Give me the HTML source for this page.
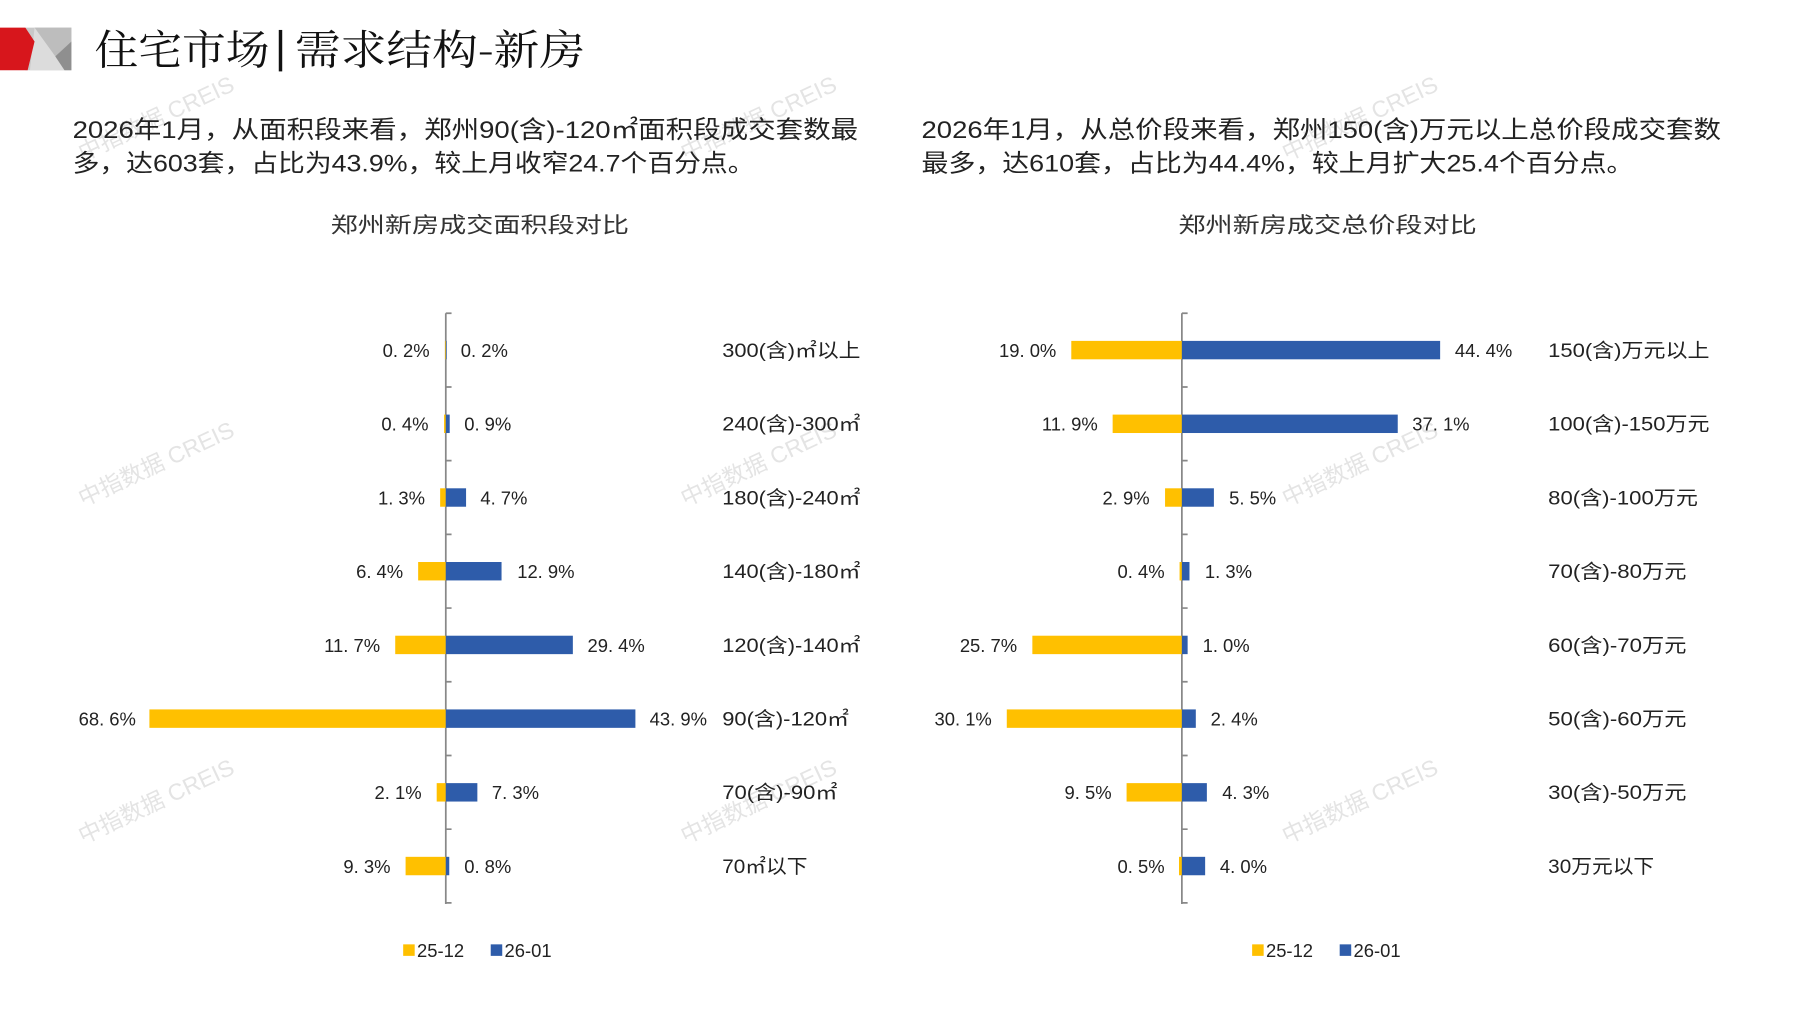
<!DOCTYPE html>
<html><head><meta charset="utf-8"><style>
html,body{margin:0;padding:0;background:#fff;}
svg{display:block;}
text{font-family:"Liberation Sans","Noto Sans CJK SC",sans-serif;fill:#222;}
.v{font-size:16px;}
.c{font-size:17px;}
.wm text{fill:#e4e4e4;font-size:20px;}
</style></head><body>
<svg width="1797" height="1010" viewBox="0 0 1560 877" preserveAspectRatio="none" xmlns="http://www.w3.org/2000/svg">
<rect width="1560" height="877" fill="#fff"/>
<rect x="22" y="24" width="40" height="37" fill="#c8c8c8"/>
<polygon points="30,24 62,24 62,36 48,49" fill="#bdbdbd"/>
<polygon points="30,24 48,49 56,61 26,61" fill="#dcdcdc"/>
<polygon points="62,36 48,49 56,61 62,61" fill="#8f8f8f"/>
<polygon points="0,24 22,24 30,36 24,61 0,61" fill="#d7161c"/>
<text x="82" y="56" textLength="152" lengthAdjust="spacingAndGlyphs" style="font-size:36px;font-family:'Noto Serif CJK SC','Noto Sans CJK SC',serif;fill:#111">住宅市场</text>
<rect x="242" y="26" width="3" height="36" fill="#111"/>
<text x="256" y="56" textLength="252" lengthAdjust="spacingAndGlyphs" style="font-size:36px;font-family:'Noto Serif CJK SC','Noto Sans CJK SC',serif;fill:#111">需求结构-新房</text>

<g class="wm">
<text transform="translate(72,140) rotate(-25)">中指数据 CREIS</text>
<text transform="translate(595,140) rotate(-25)">中指数据 CREIS</text>
<text transform="translate(1117,140) rotate(-25)">中指数据 CREIS</text>
<text transform="translate(72,440) rotate(-25)">中指数据 CREIS</text>
<text transform="translate(595,440) rotate(-25)">中指数据 CREIS</text>
<text transform="translate(1117,440) rotate(-25)">中指数据 CREIS</text>
<text transform="translate(72,733) rotate(-25)">中指数据 CREIS</text>
<text transform="translate(595,733) rotate(-25)">中指数据 CREIS</text>
<text transform="translate(1117,733) rotate(-25)">中指数据 CREIS</text>
</g>

<g style="font-size:21px">
<text x="63" y="120" textLength="682" lengthAdjust="spacingAndGlyphs">2026年1月，从面积段来看，郑州90(含)-120㎡面积段成交套数最</text>
<text x="63" y="149" textLength="592" lengthAdjust="spacingAndGlyphs">多，达603套，占比为43.9%，较上月收窄24.7个百分点。</text>
<text x="800" y="120" textLength="694" lengthAdjust="spacingAndGlyphs">2026年1月，从总价段来看，郑州150(含)万元以上总价段成交套数</text>
<text x="800" y="149" textLength="618" lengthAdjust="spacingAndGlyphs">最多，达610套，占比为44.4%，较上月扩大25.4个百分点。</text>
</g>
<text x="287" y="202" textLength="259" lengthAdjust="spacingAndGlyphs" style="font-size:19px;fill:#333">郑州新房成交面积段对比</text>
<text x="1023" y="202" textLength="259" lengthAdjust="spacingAndGlyphs" style="font-size:19px;fill:#333">郑州新房成交总价段对比</text>

<g stroke="#888" stroke-width="1.5" fill="none">
<line x1="387" y1="272" x2="387" y2="785"/>
<path d="M387 272h5M387 336h5M387 400h5M387 464h5M387 528h5M387 592h5M387 656h5M387 720h5M387 784h5"/>
<line x1="1026" y1="272" x2="1026" y2="785"/>
<path d="M1026 272h5M1026 336h5M1026 400h5M1026 464h5M1026 528h5M1026 592h5M1026 656h5M1026 720h5M1026 784h5"/>
</g>
<g fill="#FFC000">
<rect x="386.25" y="296" width="0.75" height="16"/>
<rect x="385.5" y="360" width="1.5" height="16"/>
<rect x="382.1" y="424" width="4.9" height="16"/>
<rect x="363" y="488" width="24" height="16"/>
<rect x="343.1" y="552" width="43.9" height="16"/>
<rect x="129.7" y="616" width="257.3" height="16"/>
<rect x="379.1" y="680" width="7.9" height="16"/>
<rect x="352.1" y="744" width="34.9" height="16"/>
<rect x="930" y="296" width="96" height="16"/>
<rect x="965.9" y="360" width="60.1" height="16"/>
<rect x="1011.4" y="424" width="14.6" height="16"/>
<rect x="1024" y="488" width="2" height="16"/>
<rect x="896.2" y="552" width="129.8" height="16"/>
<rect x="874" y="616" width="152" height="16"/>
<rect x="978" y="680" width="48" height="16"/>
<rect x="1023.5" y="744" width="2.5" height="16"/>
</g>
<g fill="#2E5CAA">
<rect x="387" y="296" width="0.75" height="16"/>
<rect x="387" y="360" width="3.4" height="16"/>
<rect x="387" y="424" width="17.6" height="16"/>
<rect x="387" y="488" width="48.4" height="16"/>
<rect x="387" y="552" width="110.3" height="16"/>
<rect x="387" y="616" width="164.6" height="16"/>
<rect x="387" y="680" width="27.4" height="16"/>
<rect x="387" y="744" width="3" height="16"/>
<rect x="1026" y="296" width="224.2" height="16"/>
<rect x="1026" y="360" width="187.4" height="16"/>
<rect x="1026" y="424" width="27.8" height="16"/>
<rect x="1026" y="488" width="6.6" height="16"/>
<rect x="1026" y="552" width="5" height="16"/>
<rect x="1026" y="616" width="12.1" height="16"/>
<rect x="1026" y="680" width="21.7" height="16"/>
<rect x="1026" y="744" width="20.2" height="16"/>
</g>
<g class="v" text-anchor="end">
<text x="373" y="310">0. 2%</text>
<text x="372" y="374">0. 4%</text>
<text x="369" y="438">1. 3%</text>
<text x="350" y="502">6. 4%</text>
<text x="330" y="566">11. 7%</text>
<text x="118" y="630">68. 6%</text>
<text x="366" y="694">2. 1%</text>
<text x="339" y="758">9. 3%</text>
<text x="917" y="310">19. 0%</text>
<text x="953" y="374">11. 9%</text>
<text x="998" y="438">2. 9%</text>
<text x="1011" y="502">0. 4%</text>
<text x="883" y="566">25. 7%</text>
<text x="861" y="630">30. 1%</text>
<text x="965" y="694">9. 5%</text>
<text x="1011" y="758">0. 5%</text>
</g>
<g class="v">
<text x="400" y="310">0. 2%</text>
<text x="403" y="374">0. 9%</text>
<text x="417" y="438">4. 7%</text>
<text x="449" y="502">12. 9%</text>
<text x="510" y="566">29. 4%</text>
<text x="564" y="630">43. 9%</text>
<text x="427" y="694">7. 3%</text>
<text x="403" y="758">0. 8%</text>
<text x="1263" y="310">44. 4%</text>
<text x="1226" y="374">37. 1%</text>
<text x="1067" y="438">5. 5%</text>
<text x="1046" y="502">1. 3%</text>
<text x="1044" y="566">1. 0%</text>
<text x="1051" y="630">2. 4%</text>
<text x="1061" y="694">4. 3%</text>
<text x="1059" y="758">4. 0%</text>
</g>
<g class="c">
<text x="627" y="310" textLength="120" lengthAdjust="spacingAndGlyphs">300(含)㎡以上</text>
<text x="627" y="374" textLength="120" lengthAdjust="spacingAndGlyphs">240(含)-300㎡</text>
<text x="627" y="438" textLength="120" lengthAdjust="spacingAndGlyphs">180(含)-240㎡</text>
<text x="627" y="502" textLength="120" lengthAdjust="spacingAndGlyphs">140(含)-180㎡</text>
<text x="627" y="566" textLength="120" lengthAdjust="spacingAndGlyphs">120(含)-140㎡</text>
<text x="627" y="630" textLength="110" lengthAdjust="spacingAndGlyphs">90(含)-120㎡</text>
<text x="627" y="694" textLength="100" lengthAdjust="spacingAndGlyphs">70(含)-90㎡</text>
<text x="627" y="758" textLength="74" lengthAdjust="spacingAndGlyphs">70㎡以下</text>
<text x="1344" y="310" textLength="140" lengthAdjust="spacingAndGlyphs">150(含)万元以上</text>
<text x="1344" y="374" textLength="140" lengthAdjust="spacingAndGlyphs">100(含)-150万元</text>
<text x="1344" y="438" textLength="130" lengthAdjust="spacingAndGlyphs">80(含)-100万元</text>
<text x="1344" y="502" textLength="120" lengthAdjust="spacingAndGlyphs">70(含)-80万元</text>
<text x="1344" y="566" textLength="120" lengthAdjust="spacingAndGlyphs">60(含)-70万元</text>
<text x="1344" y="630" textLength="120" lengthAdjust="spacingAndGlyphs">50(含)-60万元</text>
<text x="1344" y="694" textLength="120" lengthAdjust="spacingAndGlyphs">30(含)-50万元</text>
<text x="1344" y="758" textLength="92" lengthAdjust="spacingAndGlyphs">30万元以下</text>
</g>
<rect x="350" y="820" width="10" height="10" fill="#FFC000"/>
<text x="362" y="831" style="font-size:16px">25-12</text>
<rect x="426" y="820" width="10" height="10" fill="#2E5CAA"/>
<text x="438" y="831" style="font-size:16px">26-01</text>
<rect x="1087" y="820" width="10" height="10" fill="#FFC000"/>
<text x="1099" y="831" style="font-size:16px">25-12</text>
<rect x="1163" y="820" width="10" height="10" fill="#2E5CAA"/>
<text x="1175" y="831" style="font-size:16px">26-01</text>
</svg>
</body></html>
